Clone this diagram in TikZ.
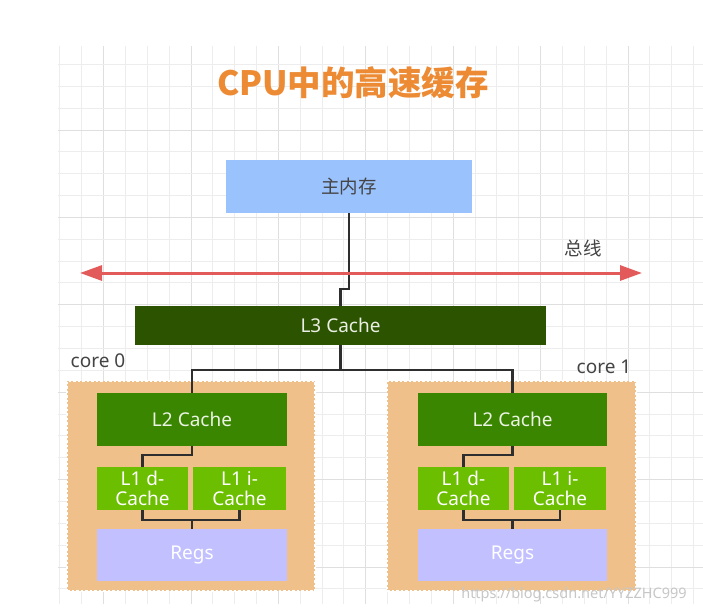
\documentclass[tikz,border=0pt]{standalone}
\usepackage{fontspec}
\setmainfont{Noto Sans}
\newfontfamily\cjk{Noto Sans CJK SC}
\usetikzlibrary{arrows.meta}
\definecolor{gridminor}{HTML}{EDEDED}
\definecolor{gridmajor}{HTML}{DFDFDF}
\definecolor{memblue}{HTML}{9AC2FD}
\definecolor{lthree}{HTML}{2C5400}
\definecolor{ltwo}{HTML}{3A8600}
\definecolor{lone}{HTML}{6CBF00}
\definecolor{regs}{HTML}{C2C0FF}
\definecolor{coreorange}{HTML}{EFC08A}
\definecolor{busred}{HTML}{E25A5A}
\definecolor{titleorange}{HTML}{EC8B34}
\definecolor{conncol}{HTML}{2E2E2E}
\definecolor{labelgray}{HTML}{444444}
\tikzset{
  blk/.style={rectangle, inner sep=0pt, outer sep=0pt, font=\fontsize{19}{20}\selectfont, align=center},
  corebox/.style={rectangle, inner sep=0pt, fill=coreorange, draw=white, line width=1.4pt, dash pattern=on 2.5pt off 2pt},
  conn/.style={draw=conncol, line width=2.6pt},
  bus/.style={draw=busred, line width=3pt, {Triangle[length=22pt,width=15pt]}-{Triangle[length=22pt,width=15pt]}},
  lbl/.style={font=\fontsize{19}{20}\selectfont, text=labelgray, inner sep=0pt},
}
\begin{document}
\begin{tikzpicture}[x=1pt,y=-1pt]
\useasboundingbox (0,0) rectangle (703,614);
\fill[white] (0,0) rectangle (703,614);
% grid
\begin{scope}
\clip (58,46) rectangle (703,604);
\foreach \i in {0,...,29}{
  \pgfmathsetmacro\xx{59.9+\i*21.85}
  \pgfmathtruncatemacro\m{mod(\i,4)}
  \ifnum\m=2
    \draw[gridmajor, line width=1pt] (\xx,46) -- (\xx,604);
  \else
    \draw[gridminor, line width=1pt] (\xx,46) -- (\xx,604);
  \fi
}
\foreach \k in {-3,...,21}{
  \pgfmathsetmacro\yy{130+\k*21.85}
  \pgfmathtruncatemacro\m{mod(\k+40,4)}
  \ifnum\m=0
    \draw[gridmajor, line width=1pt] (58,\yy) -- (703,\yy);
  \else
    \draw[gridminor, line width=1pt] (58,\yy) -- (703,\yy);
  \fi
}
\end{scope}

% title
\node[font=\cjk\bfseries\fontsize{33.5}{36}\selectfont, text=titleorange, inner sep=0pt] (title) at (353,83) {CPU中的高速缓存};

% main memory
\node[blk, fill=memblue, minimum width=246pt, minimum height=53pt, text=labelgray, font=\cjk\fontsize{18.5}{20}\selectfont] (mem) at (349,186.5) {主内存};

% L3
\node[blk, fill=lthree, minimum width=411pt, minimum height=39pt, text=white!90!lthree] (L3) at (340.5,325.5) {L3 Cache};

% cores
\node[corebox, minimum width=248pt, minimum height=210pt] (corea) at (191,486) {};
\node[corebox, minimum width=249pt, minimum height=210pt] (coreb) at (511.5,486) {};
\node[lbl, anchor=center] (corealbl) at (98,361) {core 0};
\node[lbl, anchor=center] (coreblbl) at (604,367) {core 1};

% core 0 contents
\node[blk, fill=ltwo, minimum width=190pt, minimum height=53pt, text=white!90!ltwo] (L2a) at (192,419.5) {L2 Cache};
\node[blk, fill=lone, minimum width=91pt, minimum height=43pt, text=white] (L1da) at (142.5,488.5) {L1 d-\\Cache};
\node[blk, fill=lone, minimum width=93pt, minimum height=43pt, text=white] (L1ia) at (239.5,488.5) {L1 i-\\Cache};
\node[blk, fill=regs, minimum width=190pt, minimum height=52pt, text=white] (Rega) at (192,555) {Regs};

% core 1 contents
\node[blk, fill=ltwo, minimum width=189pt, minimum height=53pt, text=white!90!ltwo] (L2b) at (512.5,419.5) {L2 Cache};
\node[blk, fill=lone, minimum width=91pt, minimum height=43pt, text=white] (L1db) at (463.5,488.5) {L1 d-\\Cache};
\node[blk, fill=lone, minimum width=92pt, minimum height=43pt, text=white] (L1ib) at (560,488.5) {L1 i-\\Cache};
\node[blk, fill=regs, minimum width=189pt, minimum height=52pt, text=white] (Regb) at (512.5,555) {Regs};

% connectors
\coordinate (j1) at (349,289);
\draw[conn] (mem.south) -- (j1) -| (L3.north);
\coordinate (j2) at (340.5,370);
\draw[conn] (L3.south) -- (j2);
\draw[conn] (L2a.north) -- ++(0,-23) -| (L2b.north);

\draw[conn] (L2a.south) -- ++(0,9) -| (L1da.north);
\draw[conn] (L1da.south) -- ++(0,10) -| (L1ia.south);
\draw[conn] (Rega.north) -- ++(0,-9);

\draw[conn] (L2b.south) -- ++(0,9) -| (L1db.north);
\draw[conn] (L1db.south) -- ++(0,10) -| (L1ib.south);
\draw[conn] (Regb.north) -- ++(0,-9);

% bus
\coordinate (busL) at (80,273);
\coordinate (busR) at (642,273);
\draw[bus] (busL) -- (busR);
\node[lbl, font=\cjk\fontsize{18.5}{20}\selectfont] (buslbl) at (583,248) {总线};

% watermark
\node[inner sep=0pt, text=black!22, font=\fontsize{14.5}{16}\selectfont] (wm) at (574,595) {https://blog.csdn.net/YYZZHC999};
\end{tikzpicture}
\end{document}
